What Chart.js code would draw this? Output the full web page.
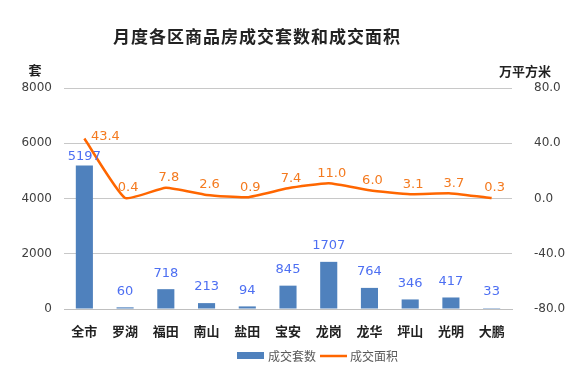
<!DOCTYPE html>
<html>
<head>
<meta charset="utf-8">
<script src="https://cdn.jsdelivr.net/npm/chart.js@4.4.0/dist/chart.umd.min.js"></script>
<style>
  html, body { margin: 0; padding: 0; background: #fff; }
  #wrap { position: relative; width: 574px; height: 368px; }
</style>
</head>
<body>
<div id="wrap"><canvas id="myChart" width="574" height="368"></canvas></div>
<script>
"use strict";

const districts = ["全市", "罗湖", "福田", "南山", "盐田", "宝安", "龙岗", "龙华", "坪山", "光明", "大鹏"];
const units = [5197, 60, 718, 213, 94, 845, 1707, 764, 346, 417, 33];
const area = [43.4, 0.4, 7.8, 2.6, 0.9, 7.4, 11.0, 6.0, 3.1, 3.7, 0.3];

const fontCJK = "'Noto Sans CJK SC', 'Microsoft YaHei', sans-serif";
const numFont = "'DejaVu Sans', sans-serif";
const barColor = "#4f81bd";
const lineColor = "#ff6600";

// value labels, title, axis units and legend drawn by hand
const labelPlugin = {
  id: "labels",
  afterDatasetsDraw(chart) {
    const ctx = chart.ctx;
    ctx.save();
    ctx.font = "13px " + numFont;
    ctx.textAlign = "center";
    ctx.textBaseline = "middle";

    chart.getDatasetMeta(0).data.forEach((bar, i) => {
      ctx.fillStyle = "#4d6ff2";
      const gap = i === 0 ? 9 : 16;
      ctx.fillText(String(units[i]), bar.x, bar.y - gap);
    });

    chart.getDatasetMeta(1).data.forEach((pt, i) => {
      ctx.fillStyle = "#f47a1f";
      if (i === 0) {
        ctx.fillText(area[i].toFixed(1), pt.x + 21, pt.y - 2);
      } else {
        ctx.fillText(area[i].toFixed(1), pt.x + 3, pt.y - 10);
      }
    });

    // title
    ctx.fillStyle = "#222";
    ctx.font = "bold 17px " + fontCJK;
    ctx.letterSpacing = "1px";
    ctx.fillText("月度各区商品房成交套数和成交面积", 257, 37);
    ctx.letterSpacing = "0px";

    // axis units
    ctx.font = "bold 13px " + fontCJK;
    ctx.fillText("套", 35, 70);
    ctx.fillText("万平方米", 525, 71);

    // legend
    ctx.fillStyle = barColor;
    ctx.fillRect(237, 352, 27, 7);
    ctx.strokeStyle = lineColor;
    ctx.lineWidth = 2.5;
    ctx.beginPath();
    ctx.moveTo(320, 356);
    ctx.lineTo(347, 356);
    ctx.stroke();
    ctx.fillStyle = "#595959";
    ctx.font = "12px " + fontCJK;
    ctx.textAlign = "left";
    ctx.fillText("成交套数", 268, 356);
    ctx.fillText("成交面积", 350, 356);
    ctx.restore();
  },
};

new Chart("myChart", {
  data: {
    labels: districts,
    datasets: [
      {
        type: "bar",
        label: "成交套数",
        data: units,
        yAxisID: "y",
        backgroundColor: barColor,
        barPercentage: 0.42,
        categoryPercentage: 1,
        order: 2,
      },
      {
        type: "line",
        label: "成交面积",
        data: area,
        yAxisID: "y1",
        borderColor: lineColor,
        backgroundColor: lineColor,
        borderWidth: 2.5,
        pointRadius: 0,
        tension: 0.15,
        order: 1,
      },
    ],
  },
  options: {
    responsive: false,
    animation: false,
    layout: { padding: { left: 0, right: 0, top: 88, bottom: 0 } },
    plugins: {
      legend: { display: false },
      tooltip: { enabled: false },
    },
    scales: {
      x: {
        grid: { display: false },
        border: { color: "#bfbfbf" },
        ticks: {
          color: "#222",
          font: { family: fontCJK, size: 13, weight: "bold" },
          padding: 6,
        },
        afterFit(scale) { scale.height = 59; },
      },
      y: {
        position: "left",
        min: 0,
        max: 8000,
        grid: { color: "#c8c8c8", drawTicks: false },
        border: { display: false },
        ticks: {
          stepSize: 2000,
          color: "#404040",
          font: { family: numFont, size: 12 },
          padding: 12,
          callback: (v) => String(v),
        },
        afterFit(scale) { scale.width = 64; },
      },
      y1: {
        position: "right",
        min: -80,
        max: 80,
        grid: { display: false },
        border: { display: false },
        ticks: {
          stepSize: 40,
          color: "#404040",
          font: { family: numFont, size: 12 },
          padding: 14,
          callback: (v) => Number(v).toFixed(1),
        },
        afterFit(scale) { scale.width = 62; },
      },
    },
  },
  plugins: [labelPlugin],
});
</script>
</body>
</html>
